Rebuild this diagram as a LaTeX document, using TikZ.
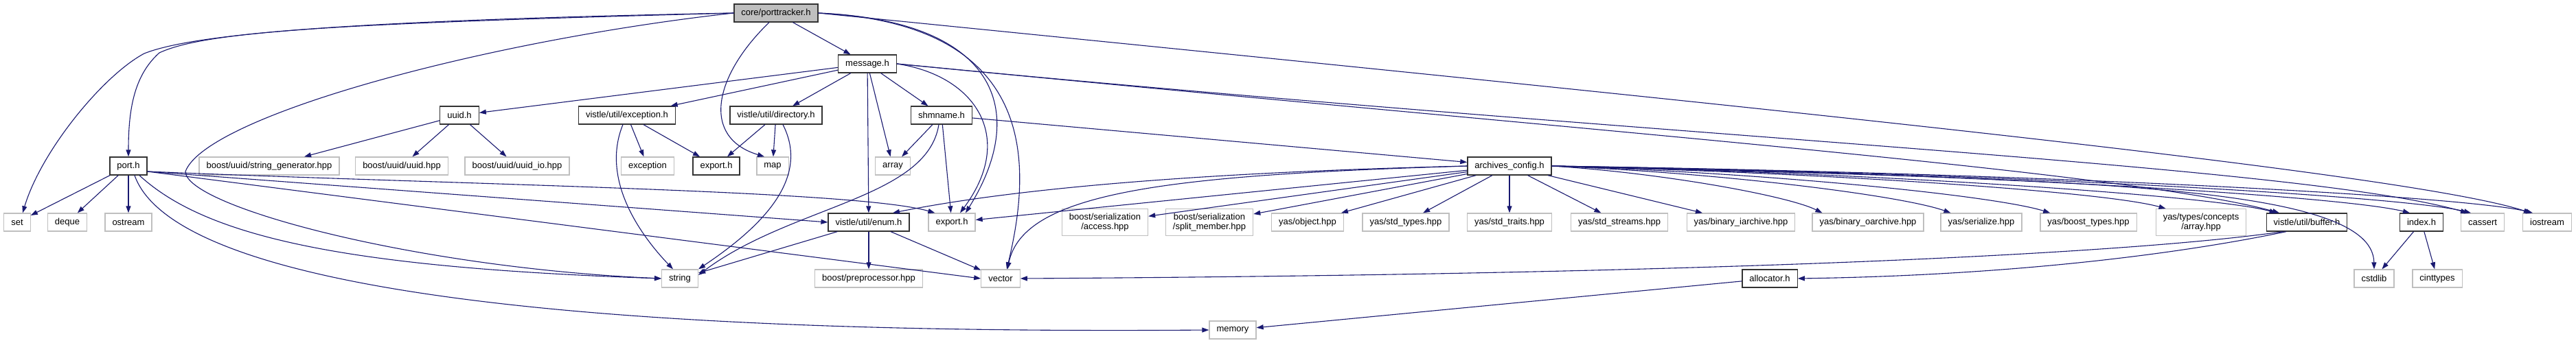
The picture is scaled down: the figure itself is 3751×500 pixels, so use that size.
\documentclass[tikz,border=0pt]{standalone}
\usepackage{fontspec}
\setmainfont{Liberation Sans}
\usetikzlibrary{arrows.meta,positioning}
\definecolor{edgeblue}{HTML}{191970}
\definecolor{boxgray}{HTML}{BFBFBF}

\begin{document}
\begin{tikzpicture}[x=1pt,y=-1pt,font=\fontsize{13}{14.5}\selectfont,
    hdr/.style={draw=black!80,line width=1.3pt,fill=white,minimum height=26pt,
      inner xsep=10.5pt,inner ysep=2pt,align=center},
    sys/.style={hdr,draw=boxgray},
    root/.style={hdr,fill=boxgray},
    two/.style={inner ysep=6pt},
    dep/.style={draw=edgeblue,line width=1.1pt,-{Triangle[length=10pt,width=7pt]}}]
  \fill[white] (0,0) rectangle (3751,500);
  \useasboundingbox (0,0) rectangle (3751,500);

  % rows from top to bottom
  \node[root] (pt) at (1130,19) {core/porttracker.h};
  \node[hdr] (msg) at (1263,93) {message.h};

  \node[hdr] (uuid) at (669,168) {uuid.h};
  \node[hdr] (exc) at (913,168) {vistle/util/exception.h};
  \node[hdr] (dir) at (1130,168) {vistle/util/directory.h};
  \node[hdr] (shm) at (1371,168) {shmname.h};

  \node[hdr] (port) at (187,242) {port.h};
  \node[sys] (sgen) at (392,242) {boost/uuid/string\_generator.hpp};
  \node[sys] (uuidhpp) at (585,242) {boost/uuid/uuid.hpp};
  \node[sys] (uuidio) at (753,242) {boost/uuid/uuid\_io.hpp};
  \node[sys] (exception) at (943,242) {exception};
  \node[hdr] (exportb) at (1043,242) {export.h};
  \node[sys] (map) at (1125,242) {map};
  \node[sys] (array) at (1300,242) {array};
  \node[hdr] (arch) at (2198,242) {archives\_config.h};

  \node[sys] (set) at (25,324) {set};
  \node[sys] (deque) at (98,324) {deque};
  \node[sys] (ostream) at (187,324) {ostream};
  \node[hdr] (enum) at (1265,324) {vistle/util/enum.h};
  \node[sys] (exportg) at (1386,324) {export.h};
  \node[sys,two] (access) at (1609,324) {boost/serialization\\/access.hpp};
  \node[sys,two] (split) at (1761,324) {boost/serialization\\/split\_member.hpp};
  \node[sys] (object) at (1904,324) {yas/object.hpp};
  \node[sys] (stdtypes) at (2047,324) {yas/std\_types.hpp};
  \node[sys] (stdtraits) at (2198,324) {yas/std\_traits.hpp};
  \node[sys] (stdstreams) at (2358,324) {yas/std\_streams.hpp};
  \node[sys] (biniarch) at (2535,324) {yas/binary\_iarchive.hpp};
  \node[sys] (binoarch) at (2720,324) {yas/binary\_oarchive.hpp};
  \node[sys] (serialize) at (2885,324) {yas/serialize.hpp};
  \node[sys] (boosttypes) at (3041,324) {yas/boost\_types.hpp};
  \node[sys,two] (concarray) at (3205,324) {yas/types/concepts\\/array.hpp};
  \node[hdr] (buffer) at (3359,324) {vistle/util/buffer.h};
  \node[hdr] (index) at (3526,324) {index.h};
  \node[sys] (cassert) at (3615,324) {cassert};
  \node[sys] (iostream) at (3709,324) {iostream};

  \node[sys] (string) at (990,406) {string};
  \node[sys] (preproc) at (1265,406) {boost/preprocessor.hpp};
  \node[sys] (vector) at (1457,406) {vector};
  \node[hdr] (allocator) at (2577,406) {allocator.h};
  \node[sys] (cstdlib) at (3457,406) {cstdlib};
  \node[sys] (cinttypes) at (3549,406) {cinttypes};

  \node[sys] (memory) at (1795,481) {memory};

  % core/porttracker.h
  \draw[dep] (pt.west) .. controls (500,30) and (280,50) .. (210,78)
    .. controls (150,110) and (60,220) .. ([xshift=8]set.north);
  \draw[dep] (pt.west) .. controls (500,34) and (300,45) .. (232,77)
    .. controls (195,110) and (187,160) .. (port.north);
  \draw[dep] (pt.west) .. controls (700,60) and (300,170) .. (270,250)
    .. controls (270,300) and (600,390) .. (string.west);
  \draw[dep] (pt) -- (msg);
  \draw[dep] ([xshift=-10]pt.south) .. controls (1040,110) and (1020,200) .. ([xshift=-12]map.north);
  \draw[dep] (pt.east) .. controls (1450,30) and (1500,160) .. ([xshift=20]exportg.north);
  \draw[dep] (pt.east) .. controls (1520,35) and (1500,250) .. ([xshift=9]vector.north);
  \draw[dep] (pt.east) .. controls (2500,150) and (3500,250) .. ([xshift=-24]iostream.north);

  % port.h
  \foreach \m in {set,deque,ostream} \draw[dep] (port) -- (\m);
  \draw[dep] ([yshift=-8]port.east) .. controls (700,270) and (1250,278) .. ([xshift=10]exportg.north west);
  \draw[dep] ([yshift=-8]port.east) -- (enum.west);
  \draw[dep] ([yshift=-8]port.east) -- (vector.west);
  \draw[dep] ([xshift=16]port.south) .. controls (300,345) and (500,390) .. (string.west);
  \draw[dep] ([xshift=9]port.south) .. controls (240,380) and (600,490) .. (memory.west);

  % uuid.h
  \foreach \m in {sgen,uuidhpp,uuidio} \draw[dep] (uuid) -- (\m);

  % message.h
  \foreach \m in {uuid,exc,dir,enum,array,shm} \draw[dep] (msg) -- (\m);
  \draw[dep] (msg.east) .. controls (1420,110) and (1480,200) .. ([xshift=12]exportg.north);
  \draw[dep] (msg.east) .. controls (2400,200) and (3350,240) .. ([xshift=-22]cassert.north);
  \draw[dep] (msg.east) .. controls (2300,190) and (3100,250) .. ([xshift=-40]buffer.north);

  % vistle/util/exception.h and directory.h
  \foreach \m in {exception,exportb} \draw[dep] (exc) -- (\m);
  \draw[dep] ([xshift=-6]exc.south) .. controls (875,260) and (930,340) .. ([xshift=-10]string.north);
  \foreach \m in {exportb,map} \draw[dep] (dir) -- (\m);
  \draw[dep] ([xshift=10]dir.south) .. controls (1180,260) and (1110,330) .. (string.north east);

  % shmname.h
  \foreach \m in {array,exportg,arch} \draw[dep] (shm) -- (\m);
  \draw[dep] ([xshift=-4]shm.south) .. controls (1350,290) and (1150,300) .. ([yshift=5]string.east);

  % vistle/util/enum.h
  \foreach \m in {string,preproc,vector} \draw[dep] (enum) -- (\m);

  % archives_config.h
  \draw[dep] (arch.west) .. controls (1800,250) and (1500,270) .. ([xshift=35]enum.north);
  \draw[dep] (arch.west) .. controls (1700,255) and (1490,280) .. ([xshift=10]vector.north);
  \foreach \m in {exportg,access,split,object,stdtypes,stdtraits,stdstreams,biniarch}
    \draw[dep] (arch) -- (\m);
  \foreach \m/\c/\d in {binoarch/160/50,serialize/250/70,boosttypes/320/80,concarray/400/90,
      buffer/480/90,index/600/100,cassert/650/100,iostream/700/100}
    \draw[dep] (arch.east) .. controls +(\c,10) and +(-\d,-25) .. ([xshift=15]\m.north west);
  \draw[dep] (arch.east) .. controls (3000,262) and (3455,265) .. (cstdlib.north);

  % vistle/util/buffer.h, allocator.h, index.h
  \draw[dep] ([xshift=-35]buffer.south) .. controls (3100,370) and (2500,400) .. (vector.east);
  \draw[dep] ([xshift=-30]buffer.south) .. controls (3150,375) and (2900,402) .. (allocator.east);
  \draw[dep] (allocator) -- (memory);
  \foreach \m in {cstdlib,cinttypes} \draw[dep] (index) -- (\m);
\end{tikzpicture}
\end{document}
